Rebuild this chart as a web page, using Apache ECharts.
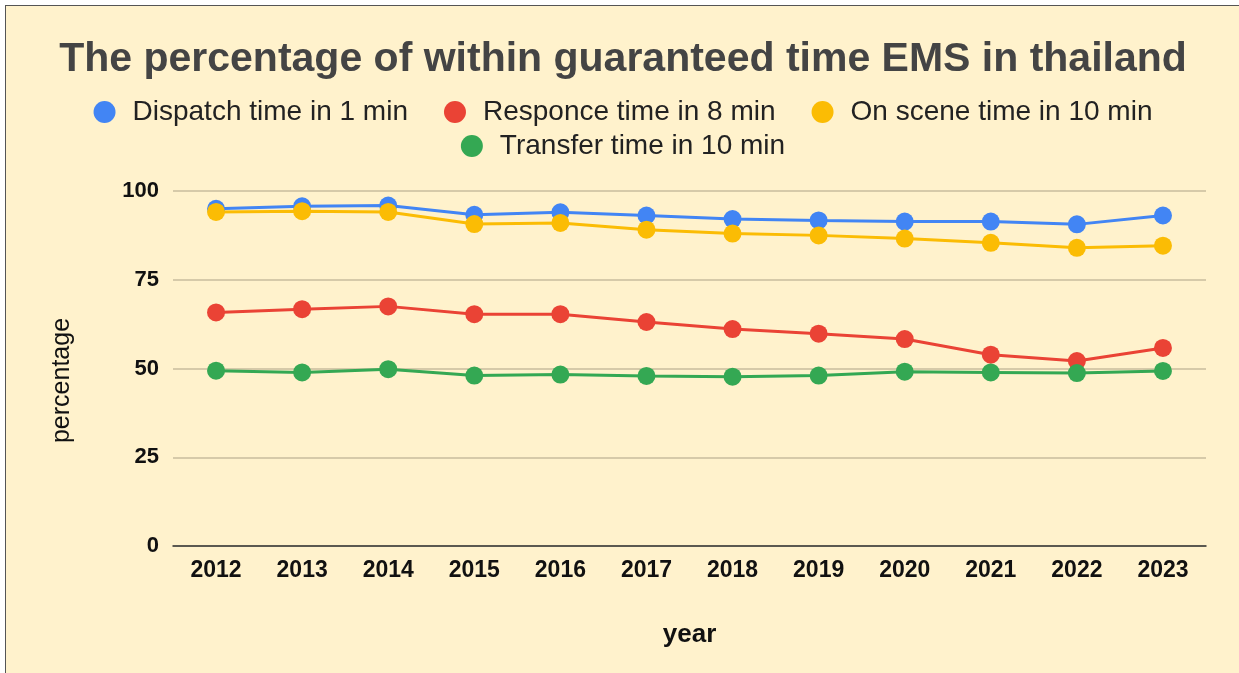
<!DOCTYPE html>
<html>
<head>
<meta charset="utf-8">
<script src="https://cdn.jsdelivr.net/npm/echarts@6/dist/echarts.min.js"></script>
<style>
  body { margin: 0; background: #ffffff; overflow: hidden; }
  .frame {
    position: absolute; left: 5px; top: 5px;
    width: 1240px; height: 672px;
    border: 1.5px solid #555555;
    background: #FFF2CC;
  }
  #chart { width: 1234px; height: 668px; }
</style>
</head>
<body>
<div class="frame"><div id="chart"></div></div>
<script>
  // data
  var years = ['2012', '2013', '2014', '2015', '2016', '2017', '2018', '2019', '2020', '2021', '2022', '2023'];
  var dispatch = [95.0, 95.7, 95.9, 93.3, 94.0, 93.1, 92.1, 91.7, 91.4, 91.4, 90.6, 93.1];
  var responce = [65.8, 66.7, 67.5, 65.3, 65.3, 63.1, 61.1, 59.8, 58.3, 53.9, 52.1, 55.8];
  var onScene = [94.1, 94.3, 94.1, 90.7, 91.0, 89.1, 88.0, 87.5, 86.6, 85.4, 84.0, 84.6];
  var transfer = [49.4, 48.9, 49.8, 48.0, 48.3, 47.9, 47.7, 48.0, 49.1, 48.9, 48.7, 49.3];
  var yTicks = [0, 25, 50, 75, 100];

  var font = '"Liberation Sans", Arial, sans-serif';
  var chart = echarts.init(document.getElementById('chart'));

  function line(name, data, color) {
    return {
      name: name,
      type: 'line',
      data: data,
      symbol: 'circle',
      symbolSize: 18,
      lineStyle: { width: 3, color: color },
      itemStyle: { color: color },
      emphasis: { disabled: true }
    };
  }

  var legendText = { fontFamily: font, fontSize: 28, color: '#222222', padding: [0, 0, 0, 12] };

  var option = {
    backgroundColor: 'transparent',
    animation: false,
    textStyle: { fontFamily: font },
    title: {
      text: 'The percentage of within guaranteed time EMS in thailand',
      left: 'center',
      top: 28,
      textStyle: { fontFamily: font, fontSize: 41, fontWeight: 'bold', color: '#444444' }
    },
    legend: [
      {
        data: ['Dispatch time in 1 min', 'Responce time in 8 min', 'On scene time in 10 min'],
        left: 'center',
        top: 87,
        icon: 'circle',
        itemWidth: 22,
        itemHeight: 22,
        itemGap: 36,
        textStyle: legendText
      },
      {
        data: ['Transfer time in 10 min'],
        left: 'center',
        top: 121,
        icon: 'circle',
        itemWidth: 22,
        itemHeight: 22,
        textStyle: legendText
      }
    ],
    grid: { left: 167, top: 185, width: 1033, height: 355 },
    xAxis: {
      type: 'category',
      data: years,
      name: 'year',
      nameLocation: 'middle',
      nameGap: 76,
      nameTextStyle: { fontFamily: font, fontSize: 26, fontWeight: 'bold', color: '#111111' },
      axisLine: { lineStyle: { color: '#333333', width: 1.5 } },
      axisTick: { show: false },
      axisLabel: { fontFamily: font, fontSize: 23, fontWeight: 'bold', color: '#111111', margin: 13 }
    },
    yAxis: {
      type: 'value',
      min: yTicks[0],
      max: yTicks[yTicks.length - 1],
      interval: 25,
      name: 'percentage',
      nameLocation: 'middle',
      nameGap: 98,
      nameTextStyle: { fontFamily: font, fontSize: 25, color: '#111111', padding: [0, 24, 0, 0] },
      axisLine: { show: false },
      axisTick: { show: false },
      axisLabel: { fontFamily: font, fontSize: 22, fontWeight: 'bold', color: '#111111', margin: 14 },
      splitLine: { lineStyle: { color: '#c9bd9e', width: 1.5 } }
    },
    series: [
      line('Dispatch time in 1 min', dispatch, '#4285F4'),
      line('Responce time in 8 min', responce, '#EA4335'),
      line('On scene time in 10 min', onScene, '#FBBC04'),
      line('Transfer time in 10 min', transfer, '#34A853')
    ]
  };

  chart.setOption(option);
</script>
</body>
</html>
